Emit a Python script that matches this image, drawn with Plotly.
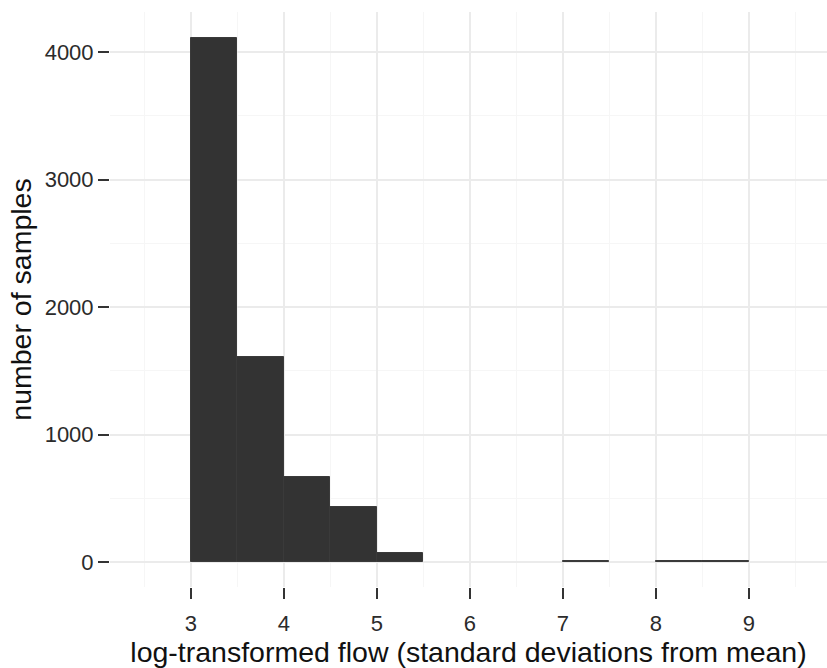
import plotly.graph_objects as go

# Histogram of log-transformed flow, binned at 0.5 SD
bin_left = [3.0, 3.5, 4.0, 4.5, 5.0, 7.0, 8.0, 8.5]
counts = [4110, 1610, 665, 432, 72, 9, 8, 8]
bin_width = 0.5

x_ticks = [3, 4, 5, 6, 7, 8, 9]
y_ticks = [0, 1000, 2000, 3000, 4000]

centers = [b + bin_width / 2 for b in bin_left]

fig = go.Figure(
    go.Bar(
        x=centers,
        y=counts,
        width=bin_width,
        marker=dict(color="#333333", line=dict(color="#3a3a3a", width=1)),
        hoverinfo="x+y",
    )
)

grid_major = "#ebebeb"
grid_minor = "#f6f6f6"
font_family = "Liberation Sans, Arial, sans-serif"

fig.update_layout(
    width=827,
    height=668,
    margin=dict(l=110, r=0, t=12, b=81),
    paper_bgcolor="white",
    plot_bgcolor="white",
    showlegend=False,
    bargap=0,
    font=dict(family=font_family, color="#222222"),
)

fig.update_xaxes(
    range=[2.13, 9.84],
    tickmode="array",
    tickvals=x_ticks,
    ticktext=[str(v) for v in x_ticks],
    ticks="outside",
    ticklen=11,
    tickwidth=2,
    tickcolor="#333333",
    tickfont=dict(size=22, color="#2b2b2b"),
    ticklabelstandoff=6,
    showgrid=True,
    gridcolor=grid_major,
    gridwidth=1.6,
    minor=dict(dtick=0.5, tick0=0, showgrid=True, gridcolor=grid_minor, gridwidth=1),
    zeroline=False,
    showline=False,
    title=dict(
        text="log-transformed flow (standard deviations from mean)",
        font=dict(size=28.5, color="#111111"),
        standoff=5,
    ),
)

fig.update_yaxes(
    range=[-196, 4314],
    tickmode="array",
    tickvals=y_ticks,
    ticktext=[str(v) for v in y_ticks],
    ticks="outside",
    ticklen=11,
    tickwidth=2,
    tickcolor="#333333",
    tickfont=dict(size=22, color="#2b2b2b"),
    showgrid=True,
    gridcolor=grid_major,
    gridwidth=1.6,
    minor=dict(dtick=500, tick0=0, showgrid=True, gridcolor=grid_minor, gridwidth=1),
    zeroline=False,
    showline=False,
    title=dict(
        text="number of samples",
        font=dict(size=28.5, color="#111111"),
        standoff=4,
    ),
)

fig.write_html("out.html")
